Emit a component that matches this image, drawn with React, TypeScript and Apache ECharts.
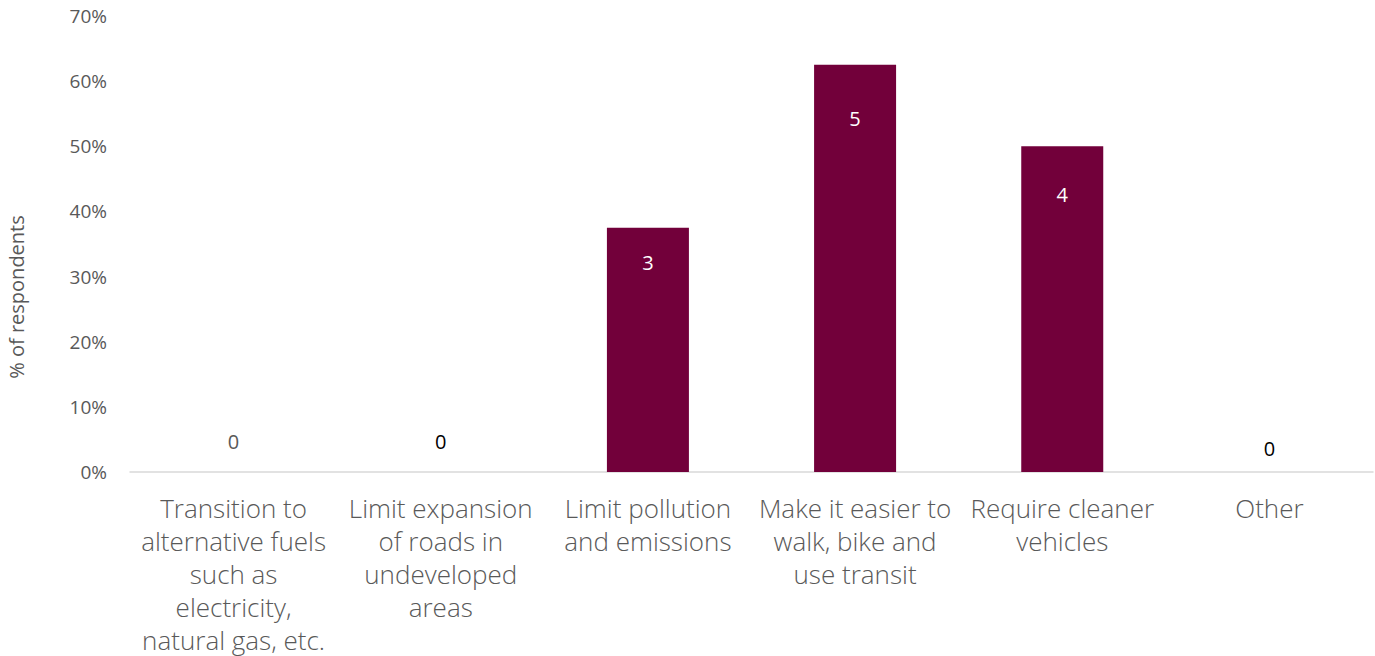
import React, { useEffect, useRef } from "react";
import * as echarts from "echarts";

const categories = [
  "Transition to\nalternative fuels\nsuch as\nelectricity,\nnatural gas, etc.",
  "Limit expansion\nof roads in\nundeveloped\nareas",
  "Limit pollution\nand emissions",
  "Make it easier to\nwalk, bike and\nuse transit",
  "Require cleaner\nvehicles",
  "Other",
];
const percentValues = [0, 0, 37.5, 62.5, 50, 0];
const countLabels = ["0", "0", "3", "5", "4", "0"];
const yTicks = [0, 10, 20, 30, 40, 50, 60, 70];

// label styling per bar (not data)
const labelStyles = [
  { position: "top", distance: 21, color: "#595959" },
  { position: "top", distance: 21, color: "#000000" },
  { position: "insideTop", distance: 25, color: "#ffffff" },
  { position: "insideTop", distance: 44, color: "#ffffff" },
  { position: "insideTop", distance: 38, color: "#ffffff" },
  { position: "top", distance: 14, color: "#000000" },
];

export default function App() {
  const ref = useRef<HTMLDivElement>(null);
  useEffect(() => {
    if (!ref.current) return;
    const chart = echarts.init(ref.current, undefined, { renderer: "svg" });
    chart.setOption({
      animation: false,
      backgroundColor: "#ffffff",
      grid: { left: 130, right: 2, top: 16, bottom: 182, containLabel: false },
      xAxis: {
        type: "category",
        data: categories,
        axisLine: { show: true, lineStyle: { color: "#d9d9d9", width: 1.5 } },
        axisTick: { show: false },
        axisLabel: {
          interval: 0,
          margin: 19,
          color: "#595959",
          fontFamily: "Open Sans",
          fontWeight: 300,
          fontSize: 26,
          lineHeight: 33,
        },
      },
      yAxis: {
        type: "value",
        min: yTicks[0],
        max: yTicks[yTicks.length - 1],
        interval: 10,
        splitLine: { show: false },
        axisLine: { show: false },
        axisTick: { show: false },
        axisLabel: {
          formatter: "{value}%",
          color: "#595959",
          fontFamily: "Open Sans",
          fontSize: 19,
          margin: 23,
        },
      },
      graphic: [
        {
          type: "text",
          x: 16,
          y: 297,
          rotation: Math.PI / 2,
          style: {
            text: "% of respondents",
            fill: "#595959",
            fontFamily: "Open Sans",
            fontSize: 20,
            align: "center",
            verticalAlign: "middle",
          },
        },
      ],
      series: [
        {
          type: "bar",
          barWidth: 82,
          itemStyle: { color: "#72003a" },
          data: percentValues.map((v, i) => ({
            value: v,
            label: {
              show: true,
              position: labelStyles[i].position,
              distance: labelStyles[i].distance,
              color: labelStyles[i].color,
              fontFamily: "Open Sans",
              fontSize: 20,
              formatter: () => countLabels[i],
            },
          })),
        },
      ],
    });
    return () => chart.dispose();
  }, []);
  return (
    <div
      ref={ref}
      style={{ position: "fixed", left: 0, top: 0, width: 1375, height: 656 }}
    />
  );
}
